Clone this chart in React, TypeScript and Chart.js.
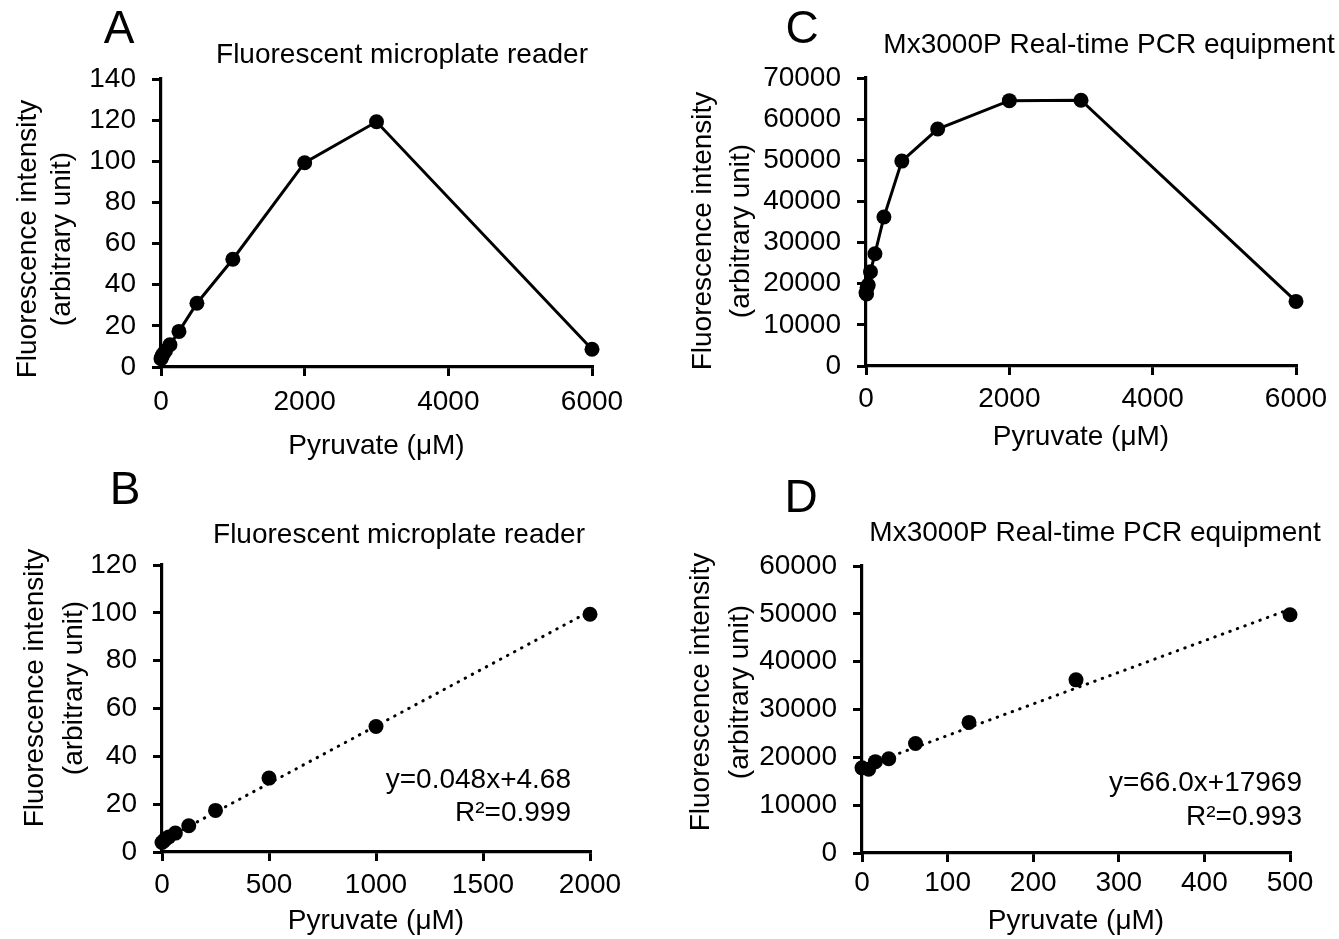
import React, { useEffect, useRef } from 'react';
import { Chart, registerables } from 'chart.js';

Chart.register(...registerables);

// ---------------- data ----------------
const concA = [0, 7.8, 15.6, 31.25, 62.5, 125, 250, 500, 1000, 2000, 3000, 6000];
const fluorA = [4.0, 4.6, 5.4, 6.3, 7.9, 10.8, 17.3, 31.0, 52.4, 99.3, 119.2, 8.6];

const concB = [0, 7.8, 15.6, 31.25, 62.5, 125, 250, 500, 1000, 2000];
const fluorB = [4.0, 4.6, 5.4, 6.3, 7.9, 11.0, 17.4, 30.9, 52.5, 99.4];

const concC = [0, 7.8, 15.6, 31.25, 62.5, 125, 250, 500, 1000, 2000, 3000, 6000];
const fluorC = [17800, 17500, 19100, 19700, 22900, 27300, 36200, 49800, 57600, 64500, 64600, 15700];

const concD = [0, 7.8, 15.6, 31.25, 62.5, 125, 250, 500];
const fluorD = [17800, 17500, 19100, 19700, 22900, 27300, 36200, 49800];

// linear fits printed on panels B and D
const fitB = { slope: 0.048, intercept: 4.68, from: 0, to: 2000 };
const fitD = { slope: 66.0, intercept: 17969, from: 0, to: 500 };

const xTicksA = [0, 2000, 4000, 6000];
const yTicksA = [0, 20, 40, 60, 80, 100, 120, 140];
const xTicksB = [0, 500, 1000, 1500, 2000];
const yTicksB = [0, 20, 40, 60, 80, 100, 120];
const xTicksC = [0, 2000, 4000, 6000];
const yTicksC = [0, 10000, 20000, 30000, 40000, 50000, 60000, 70000];
const xTicksD = [0, 100, 200, 300, 400, 500];
const yTicksD = [0, 10000, 20000, 30000, 40000, 50000, 60000];

const titleReader = 'Fluorescent microplate reader';
const titlePCR = 'Mx3000P Real-time PCR equipment';
const xTitle = 'Pyruvate (μM)';
const yTitle = ['Fluorescence intensity', '(arbitrary unit)'];

// ---------------- layout (page pixels) ----------------
const FONT = "'Liberation Sans', Arial, Helvetica, sans-serif";
const FS = 28;
const LH = 1.2;

type Panel = {
  letter: string;
  title: string;
  conc: number[];
  fluor: number[];
  xTicks: number[];
  yTicks: number[];
  fit?: { slope: number; intercept: number; from: number; to: number };
  eq?: string[];
  connect: boolean;
  box: { x: number; y: number; w: number; h: number };
  area: { l: number; t: number; r: number; b: number };
  letterPos: [number, number];
  titlePos: [number, number];
  yTitlePos: { x1: number; x2: number; y: number };
  xLabelY: number;
  xTitleY: number;
  eqPos?: { r: number; y1: number; y2: number };
};

const panels: Panel[] = [
  {
    letter: 'A', title: titleReader, conc: concA, fluor: fluorA, xTicks: xTicksA, yTicks: yTicksA, connect: true,
    box: { x: 0, y: 0, w: 670, h: 470 },
    area: { l: 161, t: 79, r: 592, b: 367 },
    letterPos: [119, 30], titlePos: [402, 55],
    yTitlePos: { x1: 28, x2: 62, y: 239 },
    xLabelY: 402, xTitleY: 446,
  },
  {
    letter: 'C', title: titlePCR, conc: concC, fluor: fluorC, xTicks: xTicksC, yTicks: yTicksC, connect: true,
    box: { x: 670, y: 0, w: 669, h: 470 },
    area: { l: 866, t: 78, r: 1296, b: 366 },
    letterPos: [802, 30], titlePos: [1109, 45],
    yTitlePos: { x1: 703, x2: 741, y: 231 },
    xLabelY: 399, xTitleY: 437,
  },
  {
    letter: 'B', title: titleReader, conc: concB, fluor: fluorB, xTicks: xTicksB, yTicks: yTicksB, connect: false,
    fit: fitB, eq: ['y=0.048x+4.68', 'R²=0.999'],
    box: { x: 0, y: 470, w: 670, h: 469 },
    area: { l: 162, t: 565, r: 590, b: 852 },
    letterPos: [125, 491], titlePos: [399, 535],
    yTitlePos: { x1: 35, x2: 74, y: 688 },
    xLabelY: 885, xTitleY: 921,
    eqPos: { r: 571, y1: 780, y2: 813 },
  },
  {
    letter: 'D', title: titlePCR, conc: concD, fluor: fluorD, xTicks: xTicksD, yTicks: yTicksD, connect: false,
    fit: fitD, eq: ['y=66.0x+17969', 'R²=0.993'],
    box: { x: 670, y: 470, w: 669, h: 469 },
    area: { l: 862, t: 566, r: 1290, b: 853 },
    letterPos: [801, 499], titlePos: [1095, 533],
    yTitlePos: { x1: 701, x2: 740, y: 692 },
    xLabelY: 883, xTitleY: 921,
    eqPos: { r: 1302, y1: 783, y2: 817 },
  },
];

const TICK_LEN = 9;
const Y_AXIS_W = 160;

function makeConfig(p: Panel): any {
  const lhPx = FS * LH;
  const xAxisH = p.xTitleY + lhPx / 2 - p.area.b;
  const xPad = p.xLabelY - p.area.b - TICK_LEN - lhPx / 2;
  const ox = p.box.x;
  const oy = p.box.y;

  const textPlugin = {
    id: 'panelText',
    afterDraw(chart: any) {
      const ctx = chart.ctx as CanvasRenderingContext2D;
      ctx.save();
      ctx.fillStyle = '#000';
      ctx.textBaseline = 'middle';
      ctx.textAlign = 'center';
      ctx.font = `46px ${FONT}`;
      ctx.fillText(p.letter, p.letterPos[0] - ox, p.letterPos[1] - oy);
      ctx.font = `${FS}px ${FONT}`;
      ctx.fillText(p.title, p.titlePos[0] - ox, p.titlePos[1] - oy);
      // y title (rotated)
      const xs = [p.yTitlePos.x1, p.yTitlePos.x2];
      yTitle.forEach((line, i) => {
        ctx.save();
        ctx.translate(xs[i] - ox, p.yTitlePos.y - oy);
        ctx.rotate(-Math.PI / 2);
        ctx.fillText(line, 0, 0);
        ctx.restore();
      });
      if (p.eq && p.eqPos) {
        ctx.textAlign = 'right';
        ctx.fillText(p.eq[0], p.eqPos.r - ox, p.eqPos.y1 - oy);
        ctx.fillText(p.eq[1], p.eqPos.r - ox, p.eqPos.y2 - oy);
      }
      ctx.restore();
    },
  };

  const datasets: any[] = [
    {
      data: p.conc.map((x, i) => ({ x, y: p.fluor[i] })),
      showLine: p.connect,
      borderColor: '#000',
      borderWidth: 3,
      backgroundColor: '#000',
      pointRadius: 7.5,
      pointBorderWidth: 0,
      pointBackgroundColor: '#000',
      clip: false,
      order: 0,
    },
  ];
  if (p.fit) {
    const f = p.fit;
    datasets.push({
      data: [
        { x: f.from, y: f.slope * f.from + f.intercept },
        { x: f.to, y: f.slope * f.to + f.intercept },
      ],
      showLine: true,
      borderColor: '#000',
      borderWidth: 3,
      borderDash: [0.5, 7.5],
      borderCapStyle: 'round',
      pointRadius: 0,
      clip: false,
      order: 1,
    });
  }

  const tickFont = { family: FONT, size: FS, lineHeight: LH };
  const grid = {
    display: true,
    drawOnChartArea: false,
    drawTicks: true,
    tickLength: TICK_LEN,
    color: '#000',
    lineWidth: 3,
  };
  const border = { display: true, color: '#000', width: 3.2 };

  return {
    type: 'scatter',
    data: { datasets },
    plugins: [textPlugin],
    options: {
      animation: false,
      responsive: false,
      maintainAspectRatio: false,
      devicePixelRatio: 1,
      layout: {
        padding: {
          left: p.area.l - ox - Y_AXIS_W,
          top: p.area.t - oy,
          right: ox + p.box.w - p.area.r,
          bottom: oy + p.box.h - p.area.b - xAxisH,
        },
      },
      plugins: {
        legend: { display: false },
        tooltip: { enabled: false },
        title: { display: false },
      },
      scales: {
        x: {
          type: 'linear',
          min: p.xTicks[0],
          max: p.xTicks[p.xTicks.length - 1],
          afterBuildTicks: (s: any) => {
            s.ticks = p.xTicks.map((v) => ({ value: v }));
          },
          afterFit: (s: any) => {
            s.height = xAxisH;
          },
          grid,
          border,
          ticks: {
            autoSkip: false,
            maxRotation: 0,
            minRotation: 0,
            color: '#000',
            font: tickFont,
            padding: xPad,
            callback: (v: any) => String(v),
          },
          title: {
            display: true,
            text: xTitle,
            color: '#000',
            font: tickFont,
            padding: 0,
          },
        },
        y: {
          type: 'linear',
          min: p.yTicks[0],
          max: p.yTicks[p.yTicks.length - 1],
          afterBuildTicks: (s: any) => {
            s.ticks = p.yTicks.map((v) => ({ value: v }));
          },
          afterFit: (s: any) => {
            s.width = Y_AXIS_W;
          },
          grid,
          border,
          ticks: {
            autoSkip: false,
            color: '#000',
            font: tickFont,
            padding: 16,
            callback: (v: any) => String(v),
          },
        },
      },
    },
  };
}

function PanelChart({ p }: { p: Panel }) {
  const ref = useRef<HTMLCanvasElement>(null);
  useEffect(() => {
    if (!ref.current) return;
    const chart = new Chart(ref.current, makeConfig(p));
    return () => chart.destroy();
  }, [p]);
  return (
    <canvas
      ref={ref}
      width={p.box.w}
      height={p.box.h}
      style={{ position: 'absolute', left: p.box.x, top: p.box.y, width: p.box.w, height: p.box.h }}
    />
  );
}

export default function App() {
  return (
    <div style={{ position: 'absolute', left: 0, top: 0, width: 1339, height: 939, background: '#fff', overflow: 'hidden' }}>
      {panels.map((p) => (
        <PanelChart key={p.letter} p={p} />
      ))}
    </div>
  );
}
